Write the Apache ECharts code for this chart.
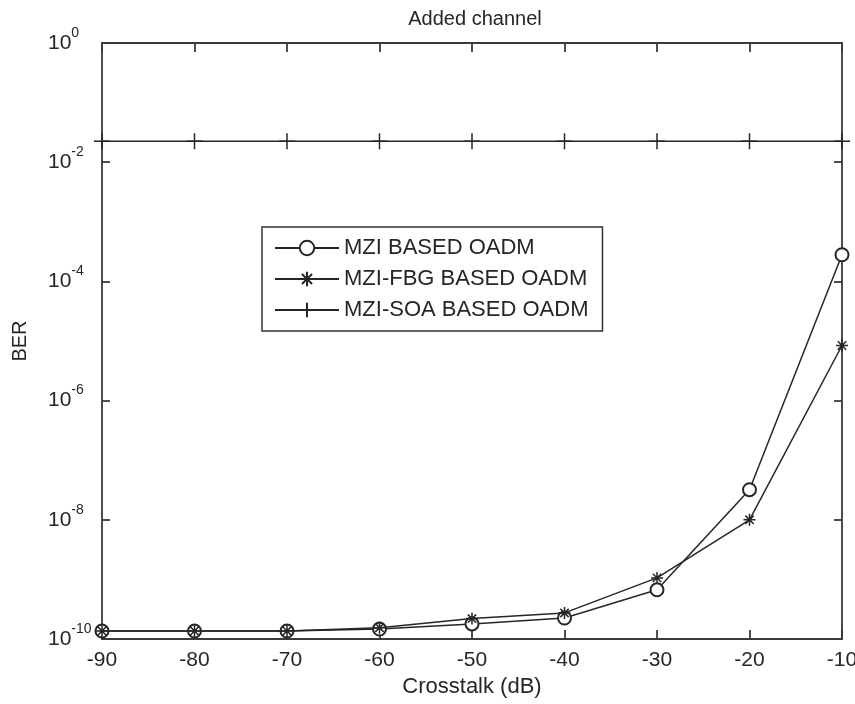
<!DOCTYPE html>
<html>
<head>
<meta charset="utf-8">
<title>Added channel</title>
<script src="https://cdn.jsdelivr.net/npm/echarts@6/dist/echarts.min.js"></script>
<style>
  html, body { margin: 0; padding: 0; background: #fff; }
  #chart { width: 855px; height: 704px; }
</style>
</head>
<body>
<div id="chart"></div>
<script>
// Crosstalk levels (dB) on the x axis
const crosstalk = [-90, -80, -70, -60, -50, -40, -30, -20, -10];

// Bit error rate for each add/drop multiplexer design
const berMzi    = [1.36e-10, 1.36e-10, 1.36e-10, 1.47e-10, 1.79e-10, 2.25e-10, 6.7e-10, 3.2e-8, 2.8e-4];
const berMziFbg = [1.36e-10, 1.36e-10, 1.36e-10, 1.55e-10, 2.2e-10, 2.74e-10, 1.06e-9, 1.0e-8, 8.4e-6];
const berMziSoa = [2.25e-2, 2.25e-2, 2.25e-2, 2.25e-2, 2.25e-2, 2.25e-2, 2.25e-2, 2.25e-2, 2.25e-2];

const seriesNames = ['MZI BASED OADM', 'MZI-FBG BASED OADM', 'MZI-SOA BASED OADM'];

// Axis ranges / tick labels
const xTicks = [-90, -80, -70, -60, -50, -40, -30, -20, -10];
const yMin = 1e-10, yMax = 1;

const FONT = '"Liberation Sans", Arial, Helvetica, sans-serif';
const INK = '#262626';

// MATLAB-like marker shapes
const plusPath = 'path://M0,-10L0,10M-10,0L10,0';
const starPath = 'path://M0,-10L0,10M-10,0L10,0M-7,-7L7,7M-7,7L7,-7';

function pairs(ys) { return crosstalk.map((x, i) => [x, ys[i]]); }

const chart = echarts.init(document.getElementById('chart'), null, { renderer: 'canvas' });

const axisLineStyle = { color: '#3a3a3a', width: 1.8 };

chart.setOption({
  animation: false,
  backgroundColor: '#fff',
  title: {
    text: 'Added channel',
    left: 470,
    top: 4,
    textAlign: 'center',
    textStyle: { fontFamily: FONT, fontSize: 20, fontWeight: 'normal', color: INK }
  },
  grid: { left: 102, right: 13, top: 43, bottom: 65, containLabel: false, outerBoundsMode: 'none' },
  legend: {
    orient: 'vertical',
    left: 262,
    top: 227,
    padding: [10, 14, 10, 12],
    itemGap: 9,
    itemWidth: 64,
    itemHeight: 18,
    borderColor: '#333',
    borderWidth: 1.5,
    backgroundColor: '#fff',
    textStyle: { fontFamily: FONT, fontSize: 22, color: INK },
    data: seriesNames
  },
  xAxis: [
    {
      type: 'value', position: 'bottom',
      min: xTicks[0], max: xTicks[xTicks.length - 1], interval: 10,
      name: 'Crosstalk (dB)', nameLocation: 'middle', nameGap: 37,
      nameTextStyle: { fontFamily: FONT, fontSize: 22, color: INK },
      axisLine: { show: true, lineStyle: axisLineStyle },
      axisTick: { show: true, inside: true, length: 9, lineStyle: axisLineStyle },
      axisLabel: { fontFamily: FONT, fontSize: 21, color: INK, margin: 11 },
      splitLine: { show: false }
    },
    {
      type: 'value', position: 'top',
      min: xTicks[0], max: xTicks[xTicks.length - 1], interval: 10,
      axisLine: { show: true, lineStyle: axisLineStyle },
      axisTick: { show: true, inside: true, length: 9, lineStyle: axisLineStyle },
      axisLabel: { show: false },
      splitLine: { show: false }
    }
  ],
  yAxis: [
    {
      type: 'log', logBase: 100, position: 'left',
      min: yMin, max: yMax,
      name: 'BER', nameLocation: 'middle', nameGap: 72, nameRotate: 90,
      nameTextStyle: { fontFamily: FONT, fontSize: 20, color: INK },
      axisLine: { show: true, lineStyle: axisLineStyle },
      axisTick: { show: true, inside: true, length: 8, lineStyle: axisLineStyle },
      axisLabel: {
        margin: 54,
        align: 'left',
        formatter: function (v) {
          const e = Math.round(Math.log10(v));
          return '{b|10}{s|' + e + '}';
        },
        rich: {
          b: { fontFamily: FONT, fontSize: 21, color: INK },
          s: { fontFamily: FONT, fontSize: 14, color: INK, padding: [0, 0, 20, 0] }
        }
      },
      splitLine: { show: false },
      minorTick: { show: false }
    },
    {
      type: 'log', logBase: 100, position: 'right',
      min: yMin, max: yMax,
      axisLine: { show: true, lineStyle: axisLineStyle },
      axisTick: { show: true, inside: true, length: 8, lineStyle: axisLineStyle },
      axisLabel: { show: false },
      splitLine: { show: false }
    }
  ],
  series: [
    {
      name: seriesNames[0], type: 'line', data: pairs(berMzi),
      symbol: 'emptyCircle', symbolSize: 13, clip: false,
      lineStyle: { color: INK, width: 1.5 },
      itemStyle: { color: INK, borderColor: INK, borderWidth: 1.5 },
      z: 3
    },
    {
      name: seriesNames[1], type: 'line', data: pairs(berMziFbg),
      symbol: starPath, symbolSize: 12, clip: false,
      lineStyle: { color: INK, width: 1.5 },
      itemStyle: { color: INK, borderColor: INK, borderWidth: 1.5 },
      z: 4
    },
    {
      name: seriesNames[2], type: 'line', data: pairs(berMziSoa),
      symbol: plusPath, symbolSize: 16, clip: false,
      lineStyle: { color: INK, width: 1.5 },
      itemStyle: { color: INK, borderColor: INK, borderWidth: 1.5 },
      z: 3
    }
  ]
});
</script>
</body>
</html>
